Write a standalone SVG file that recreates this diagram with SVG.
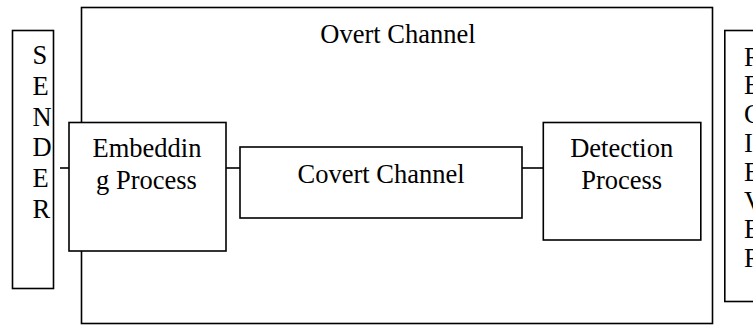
<svg xmlns="http://www.w3.org/2000/svg" width="753" height="325" viewBox="0 0 753 325">
  <style>
    .box { fill: #ffffff; stroke: #000000; stroke-width: 1.6; }
    .conn { stroke: #000000; stroke-width: 1.6; fill: none; }
    .t { font-family: "Liberation Serif", "Times New Roman", serif; font-size: 26.5px; fill: #000000; }
    .c { text-anchor: middle; }
  </style>
  <rect x="0" y="0" width="753" height="325" fill="#ffffff"/>
  <g id="overt-channel">
    <rect class="box" x="81.5" y="7.5" width="631" height="316"/>
    <text class="t c" x="398" y="43">Overt Channel</text>
  </g>
  <g id="sender">
    <rect class="box" x="12.5" y="30.5" width="41" height="258"/>
    <text class="t" x="32.5" y="64">S</text>
    <text class="t" x="32.5" y="94.8">E</text>
    <text class="t" x="32.5" y="125.6">N</text>
    <text class="t" x="32.5" y="156.4">D</text>
    <text class="t" x="32.5" y="187.2">E</text>
    <text class="t" x="32.5" y="218">R</text>
  </g>
  <g id="receiver">
    <rect class="box" x="724.8" y="30.5" width="60" height="271"/>
    <text class="t" x="744" y="65.5">R</text>
    <text class="t" x="744" y="94.3">E</text>
    <text class="t" x="744" y="123.1">C</text>
    <text class="t" x="744" y="151.9">I</text>
    <text class="t" x="744" y="180.7">E</text>
    <text class="t" x="744" y="209.5">V</text>
    <text class="t" x="744" y="238.3">E</text>
    <text class="t" x="744" y="267.1">R</text>
  </g>
  <g id="connectors">
    <line class="conn" x1="60" y1="168" x2="69" y2="168"/>
    <line class="conn" x1="226" y1="168" x2="240" y2="168"/>
    <line class="conn" x1="522" y1="168" x2="543.3" y2="168"/>
  </g>
  <g id="embedding-process">
    <rect class="box" x="69" y="122.5" width="157" height="128.5"/>
    <text class="t c" x="147" y="156.7">Embeddin</text>
    <text class="t c" x="146.5" y="188.7">g Process</text>
  </g>
  <g id="covert-channel">
    <rect class="box" x="240" y="147" width="282" height="71"/>
    <text class="t c" x="381" y="182.7">Covert Channel</text>
  </g>
  <g id="detection-process">
    <rect class="box" x="543.3" y="122.5" width="157.5" height="117.5"/>
    <text class="t c" x="621.7" y="156.7">Detection</text>
    <text class="t c" x="621.7" y="188.5">Process</text>
  </g>
</svg>
